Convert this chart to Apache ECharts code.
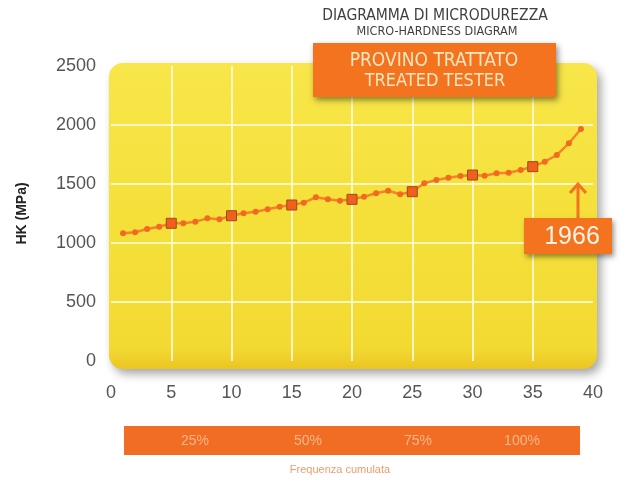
<!DOCTYPE html>
<html><head><meta charset="utf-8">
<script src="https://cdn.jsdelivr.net/npm/echarts@6/dist/echarts.min.js"></script>
<style>html,body{margin:0;padding:0;background:#fff}#c{width:628px;height:486px}</style>
</head><body><div id="c"></div><script>
// ---- data ----
const sampleIndex = [1,2,3,4,5,6,7,8,9,10,11,12,13,14,15,16,17,18,19,20,21,22,23,24,25,26,27,28,29,30,31,32,33,34,35,36,37,38,39];
const hardness = [1082,1091,1119,1138,1167,1167,1181,1209,1201,1231,1252,1265,1286,1308,1322,1342,1387,1370,1358,1370,1392,1421,1443,1413,1435,1506,1534,1553,1568,1576,1570,1591,1596,1619,1647,1689,1746,1845,1966];
const cumulativeLabels = ['25%','50%','75%','100%'];
const titleLines = ['DIAGRAMMA DI MICRODUREZZA','MICRO-HARDNESS DIAGRAM'];
const badgeLines = ['PROVINO TRATTATO','TREATED TESTER'];
const footerLabel = 'Frequenza cumulata';
const yAxisName = 'HK (MPa)';
const finalValue = hardness[hardness.length - 1];

// ---- layout (decoration only) ----
const cumulativeX = [195, 308, 418, 522];
const ORANGE = '#F3731F';

const seriesData = sampleIndex.map((x, i) => {
  const big = x % 5 === 0;
  return {
    value: [x, hardness[i]],
    symbol: big ? 'rect' : 'circle',
    symbolSize: big ? 10 : 6,
    itemStyle: big ? {color: '#F05F1C', borderColor: '#9C4A1E', borderWidth: 1}
                   : {color: '#F26A20', borderWidth: 0}
  };
});

const chart = echarts.init(document.getElementById('c'), null, {renderer: 'canvas'});
const titleFont = '"DejaVu Sans Condensed", "Liberation Sans Narrow", sans-serif';
const numFont = '"Liberation Sans", Arial, sans-serif';

const graphics = [
  // yellow panel
  {type: 'rect', z: -10, shape: {x: 109, y: 63, width: 488, height: 306, r: 14},
   style: {fill: new echarts.graphic.LinearGradient(0, 0, 0, 1, [
       {offset: 0, color: '#F8E64A'}, {offset: 0.5, color: '#F5E03A'},
       {offset: 0.93, color: '#F3DA33'}, {offset: 1, color: '#EBC523'}]),
     shadowBlur: 10, shadowColor: 'rgba(0,0,0,0.35)', shadowOffsetX: 4, shadowOffsetY: 5}},
  // title
  {type: 'text', z: 10, style: {text: titleLines[0], x: 435, y: 16, align: 'center', verticalAlign: 'middle',
     font: '15.5px ' + titleFont, fill: '#3f3f3f'}},
  {type: 'text', z: 10, style: {text: titleLines[1], x: 437, y: 32, align: 'center', verticalAlign: 'middle',
     font: '12.5px ' + titleFont, fill: '#3f3f3f'}},
  // orange badge
  {type: 'rect', z: 10, shape: {x: 313, y: 43, width: 243, height: 54},
   style: {fill: ORANGE, shadowBlur: 6, shadowColor: 'rgba(0,0,0,0.45)', shadowOffsetX: 2, shadowOffsetY: 3}},
  {type: 'text', z: 11, style: {text: badgeLines[0], x: 434, y: 61, align: 'center', verticalAlign: 'middle',
     font: '19px ' + titleFont, fill: '#FDE6C0'}},
  {type: 'text', z: 11, style: {text: badgeLines[1], x: 435, y: 81, align: 'center', verticalAlign: 'middle',
     font: '18px ' + titleFont, fill: '#FDE6C0'}},
  // 1966 callout
  {type: 'line', z: 10, shape: {x1: 578, y1: 218, x2: 578, y2: 185}, style: {stroke: ORANGE, lineWidth: 3}},
  {type: 'polyline', z: 10, shape: {points: [[570, 193], [578, 184], [586, 193]]}, style: {stroke: ORANGE, lineWidth: 3, fill: null}},
  {type: 'rect', z: 10, shape: {x: 524, y: 218, width: 88, height: 36},
   style: {fill: ORANGE, shadowBlur: 5, shadowColor: 'rgba(0,0,0,0.4)', shadowOffsetX: 2, shadowOffsetY: 3}},
  {type: 'text', z: 11, style: {text: String(finalValue), x: 572, y: 237, align: 'center', verticalAlign: 'middle',
     font: '25px ' + numFont, fill: '#FFF4E6'}},
  // cumulative frequency bar
  {type: 'rect', z: 5, shape: {x: 124, y: 426, width: 456, height: 29}, style: {fill: '#F26D24'}},
  ...cumulativeLabels.map((t, i) => ({type: 'text', z: 6, style: {text: t, x: cumulativeX[i], y: 441,
     align: 'center', verticalAlign: 'middle', font: '14px ' + numFont, fill: '#F9B58A'}})),
  {type: 'text', z: 6, style: {text: footerLabel, x: 340, y: 470, align: 'center', verticalAlign: 'middle',
     font: '11px ' + numFont, fill: '#F49A6A'}}
];

const plain = v => String(v);

chart.setOption({
  animation: false,
  backgroundColor: '#ffffff',
  grid: {left: 111, right: 35, top: 66, bottom: 125},
  xAxis: {
    type: 'value', min: 0, max: 40, interval: 5,
    axisLine: {show: false}, axisTick: {show: false},
    axisLabel: {color: '#555', fontSize: 18, margin: 23, fontFamily: numFont, formatter: plain},
    splitLine: {show: true, showMinLine: false, showMaxLine: false, lineStyle: {color: 'rgba(255,250,215,0.85)', width: 2}}
  },
  yAxis: {
    type: 'value', min: 0, max: 2500, interval: 500,
    name: yAxisName, nameLocation: 'middle', nameRotate: 90, nameGap: 82,
    nameTextStyle: {color: '#222', fontSize: 14, fontWeight: 'bold', fontFamily: numFont},
    axisLine: {show: false}, axisTick: {show: false},
    axisLabel: {color: '#555', fontSize: 18, margin: 15, fontFamily: numFont, formatter: plain, padding: [6, 0, 0, 0]},
    splitLine: {show: true, showMinLine: false, showMaxLine: false, lineStyle: {color: 'rgba(255,250,215,0.85)', width: 2}}
  },
  graphic: graphics,
  series: [{
    type: 'line', data: seriesData, z: 3,
    lineStyle: {color: '#F47A26', width: 2.5, opacity: 0.9},
    showAllSymbol: true
  }]
});
</script></body></html>
